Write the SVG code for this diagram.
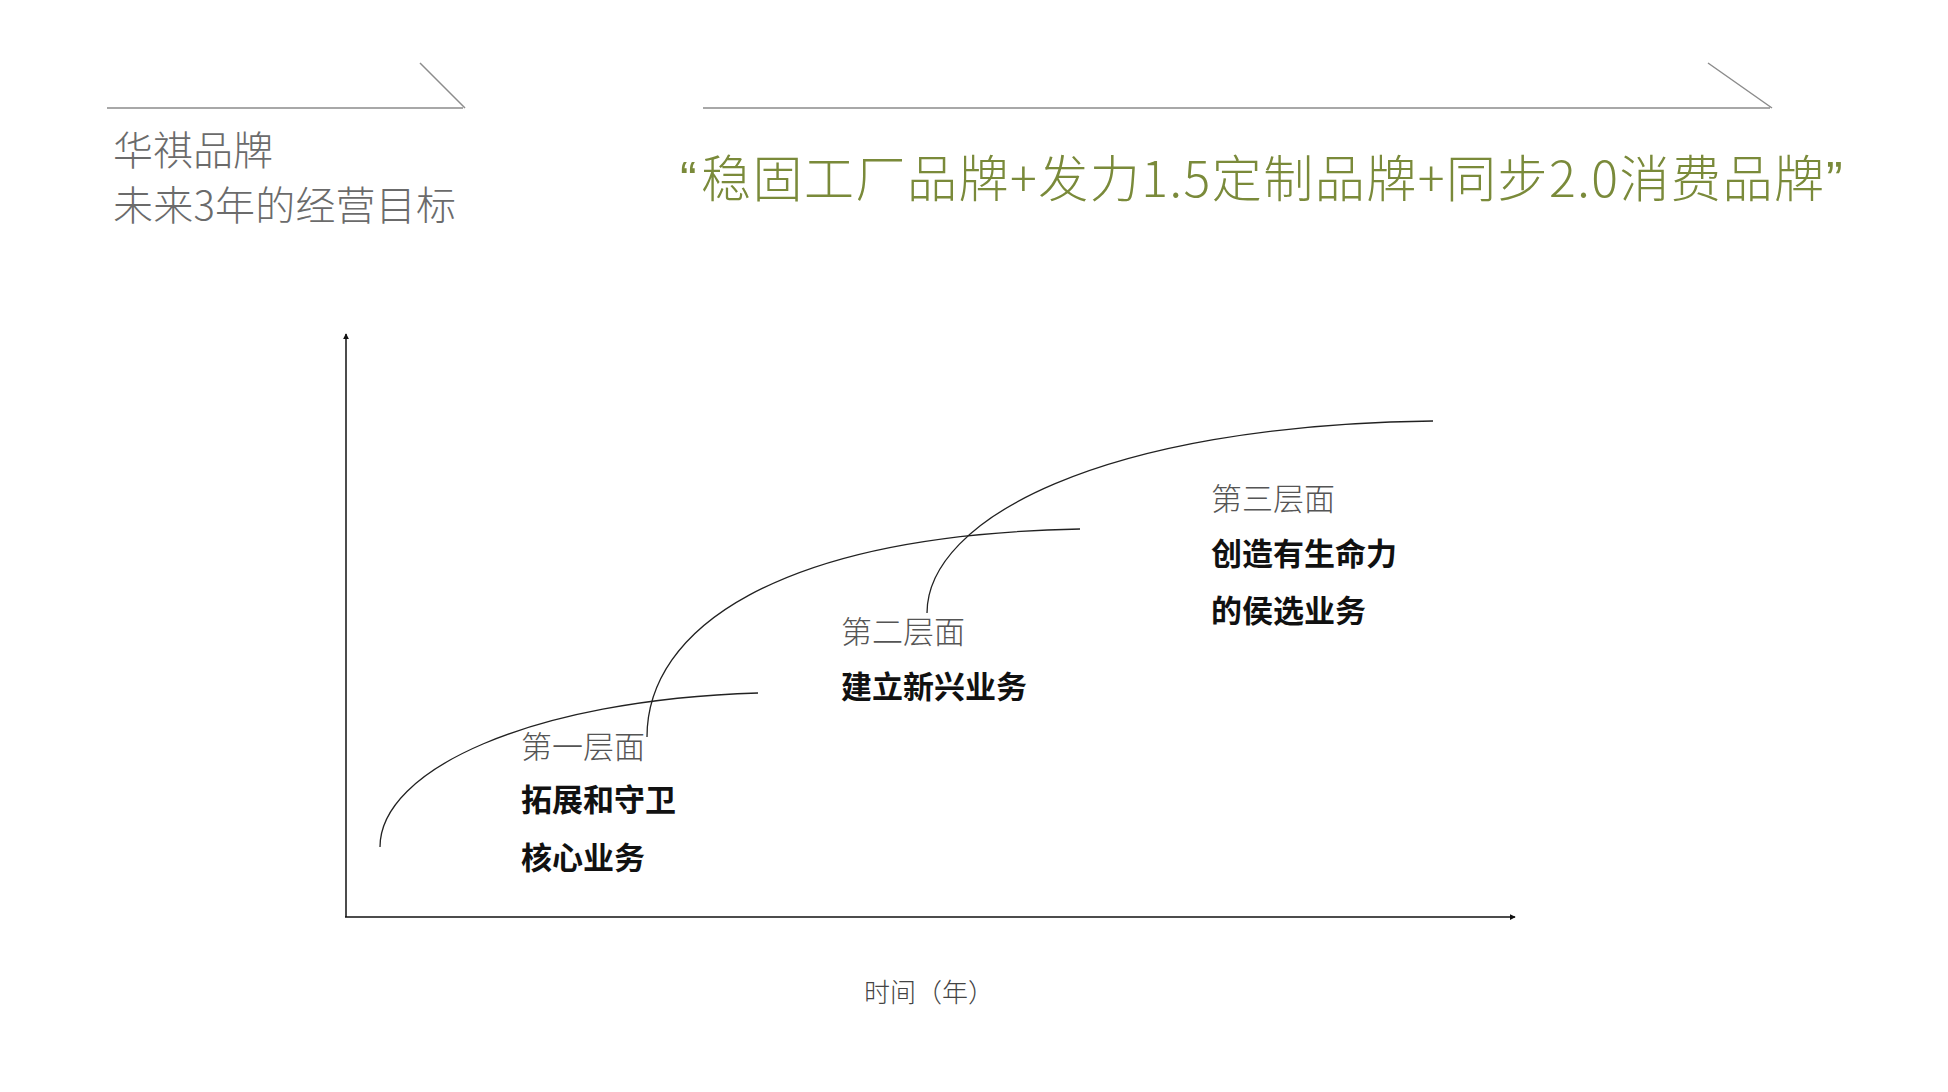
<svg xmlns="http://www.w3.org/2000/svg" width="1948" height="1092" viewBox="0 0 1948 1092">
  <style>
    .rule { stroke: #8c8c8c; stroke-width: 1.5; fill: none; }
    .head { font-family: "Noto Sans CJK SC", "Noto Sans", sans-serif; font-weight: 300; fill: #6b6b6b; font-size: 40px; }
    .title { font-family: "Noto Sans CJK SC", "Noto Sans", sans-serif; font-weight: 300; fill: #7a8a3a; font-size: 50px; }
    .quote { font-family: "Liberation Sans", "Noto Sans", sans-serif; fill: #7a8a3a; font-size: 50px; }
    .axis { stroke: #111; stroke-width: 1.5; fill: none; }
    .curve { stroke: #222; stroke-width: 1.3; fill: none; }
    .lvl { font-family: "Noto Sans CJK SC", "Noto Sans", sans-serif; font-weight: 300; fill: #555; font-size: 31px; }
    .desc { font-family: "Noto Sans CJK SC", "Noto Sans", sans-serif; font-weight: 700; fill: #111; font-size: 31px; }
    .xlab { font-family: "Noto Sans CJK SC", "Noto Sans", sans-serif; font-weight: 300; fill: #444; font-size: 26px; }
  </style>
  <defs>
    <marker id="arr" viewBox="0 0 8 8" refX="7" refY="4" markerWidth="6" markerHeight="6" markerUnits="userSpaceOnUse" orient="auto">
      <path d="M0,0 L8,4 L0,8 z" fill="#111"/>
    </marker>
  </defs>
  <rect width="1948" height="1092" fill="#ffffff"/>

  <g id="header-left">
    <path class="rule" d="M107,108 H463 M420,63 L465,108"/>
    <text class="head" x="113" y="165">华祺品牌</text>
    <text class="head" x="113" y="220" textLength="343" lengthAdjust="spacing">未来3年的经营目标</text>
  </g>

  <g id="header-right">
    <path class="rule" d="M703,108 H1770 M1708,63 L1772,108"/>
    <text class="title" y="197"><tspan class="quote" x="680">“</tspan><tspan x="701" textLength="1123" lengthAdjust="spacing">稳固工厂品牌+发力1.5定制品牌+同步2.0消费品牌</tspan><tspan class="quote" x="1826">”</tspan></text>
  </g>

  <g id="axes">
    <line class="axis" x1="346" y1="917" x2="346" y2="334" marker-end="url(#arr)"/>
    <line class="axis" x1="345" y1="917" x2="1515" y2="917" marker-end="url(#arr)"/>
    <text class="xlab" x="864" y="1002">时间（年）</text>
  </g>

  <g id="connectors">
    <path id="curve-1" class="curve" d="M380,847 C380,770 530,700 758,693"/>
    <path id="curve-2" class="curve" d="M647,737 C647,630 775,535 1080,529"/>
    <path id="curve-3" class="curve" d="M927,613 C927,520 1100,425 1433,421"/>
  </g>

  <g id="level-1">
    <text class="lvl" x="521" y="758">第一层面</text>
    <text class="desc" x="521" y="811">拓展和守卫</text>
    <text class="desc" x="521" y="869">核心业务</text>
  </g>

  <g id="level-2">
    <text class="lvl" x="841" y="643">第二层面</text>
    <text class="desc" x="841" y="698">建立新兴业务</text>
  </g>

  <g id="level-3">
    <text class="lvl" x="1211" y="510">第三层面</text>
    <text class="desc" x="1211" y="565">创造有生命力</text>
    <text class="desc" x="1211" y="622">的侯选业务</text>
  </g>
</svg>
